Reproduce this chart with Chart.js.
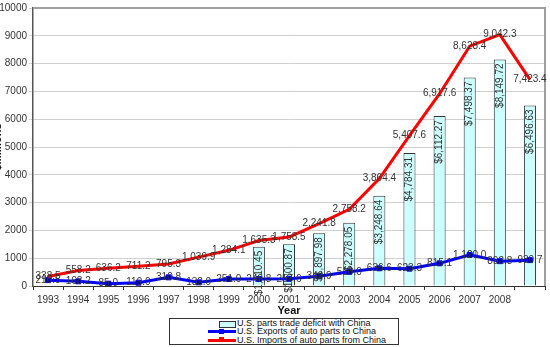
<!DOCTYPE html>
<html>
<head>
<meta charset="utf-8">
<script src="https://cdn.jsdelivr.net/npm/chart.js@4/dist/chart.umd.min.js"></script>
<style>
  body { margin: 0; background: #fff; font-family: "Liberation Sans", Arial, sans-serif; }
  #wrap { position: relative; width: 550px; height: 347px; }
  #legend { position: absolute; left: 169px; top: 318px; width: 228px; height: 25px;
            border: 1px solid #333; font-size: 9px; color: #111; background: #fff; }
  .row { position: relative; height: 8.3px; line-height: 8.3px; white-space: nowrap; }
  .row span.txt { position: absolute; left: 67px; top: 0; }
  .sym { position: absolute; }
</style>
</head>
<body>
<div id="wrap">
  <canvas id="chart" width="550" height="347"></canvas>
  <div id="legend"></div>
</div>
<script>
const years = ['1993','1994','1995','1996','1997','1998','1999','2000','2001','2002','2003','2004','2005','2006','2007','2008',''];
const deficit = [null,null,null,null,null,null,null,1410.45,1500.87,1897.98,2278.05,3248.64,4784.31,6112.27,7498.37,8149.72,6496.63];
const exportsToChina = [210.5,168.2,85.0,119.0,310.8,132.0,251.0,249.8,257.6,349.9,510.0,636.6,623.3,815.1,1120.0,892.8,930.7];
const importsFromChina = [338.5,558.2,636.2,711.2,795.3,1039.9,1284.1,1635.3,1758.5,2241.8,2758.2,3864.4,5407.6,6917.6,8628.4,9042.3,7423.4];
const yTicks = [0,1000,2000,3000,4000,5000,6000,7000,8000,9000,10000];

function fmt(v, d) {
  return v.toLocaleString('en-US', { minimumFractionDigits: d, maximumFractionDigits: d });
}

// value labels on every point / bar
const valueLabels = {
  id: 'valueLabels',
  afterDatasetsDraw(chart) {
    const ctx = chart.ctx;
    ctx.save();
    ctx.font = '10px "Liberation Sans", Arial, sans-serif';
    ctx.fillStyle = '#333';
    chart.data.datasets.forEach((ds, i) => {
      const meta = chart.getDatasetMeta(i);
      meta.data.forEach((el, j) => {
        const v = ds.data[j];
        if (v == null) return;
        if (ds.type === 'bar') {
          ctx.save();
          ctx.translate(el.x, el.y + 4);
          ctx.rotate(-Math.PI / 2);
          ctx.textAlign = 'right';
          ctx.textBaseline = 'middle';
          ctx.fillText('$' + fmt(v, 2), 0, 0);
          ctx.restore();
        } else {
          ctx.textAlign = 'center';
          ctx.textBaseline = 'middle';
          ctx.fillText(fmt(v, 1), el.x, el.y);
        }
      });
    });
    ctx.restore();
  }
};

// excel-like plot area frame (top + right)
const plotFrame = {
  id: 'plotFrame',
  beforeDatasetsDraw(chart) {
    const { ctx, chartArea: a } = chart;
    ctx.save();
    ctx.strokeStyle = '#a0a0a0';
    ctx.lineWidth = 2;
    ctx.beginPath();
    ctx.moveTo(a.left, a.top);
    ctx.lineTo(a.right, a.top);
    ctx.lineTo(a.right, a.bottom);
    ctx.stroke();
    ctx.restore();
  }
};

const ctx = document.getElementById('chart').getContext('2d');
const chart = new Chart(ctx, {
  data: {
    labels: years,
    datasets: [
      { type: 'bar', label: 'U.S. parts trade deficit with China', data: deficit,
        backgroundColor: '#ccffff', borderColor: '#333', borderWidth: 1,
        barPercentage: 0.4, categoryPercentage: 1.0, order: 3 },
      { type: 'line', label: 'U.S. Exports of auto parts to China', data: exportsToChina,
        borderColor: '#0000ff', borderWidth: 3, pointStyle: 'rect', pointRadius: 3.5,
        pointBackgroundColor: '#0000a0', pointBorderColor: '#0000ff', pointBorderWidth: 1,
        tension: 0, order: 2 },
      { type: 'line', label: 'U.S. Imports of auto parts from China', data: importsFromChina,
        borderColor: '#ff0000', borderWidth: 3, pointRadius: 0, tension: 0, order: 1 }
    ]
  },
  options: {
    responsive: false,
    animation: false,
    layout: { padding: { left: 0, right: 2, top: 5, bottom: 29 } },
    plugins: { legend: { display: false }, tooltip: { enabled: false } },
    scales: {
      x: {
        offset: true,
        grid: { display: true, drawOnChartArea: false, offset: true, tickLength: 4, color: '#333' },
        border: { color: '#333', width: 1 },
        ticks: { color: '#333', font: { size: 10, family: '"Liberation Sans", Arial' }, maxRotation: 0, autoSkip: false, padding: 4 },
        title: { display: true, text: 'Year', color: '#111', font: { size: 11, weight: 'bold', family: '"Liberation Sans", Arial' }, padding: { top: 0, bottom: 0 } },
        afterFit(s) { s.height = 32; }
      },
      y: {
        min: 0, max: 10000,
        afterBuildTicks(s) { s.ticks = yTicks.map(v => ({ value: v })); },
        grid: { color: '#d0d0d0', tickLength: 4, lineWidth: 1 },
        border: { color: '#555', width: 1.5 },
        ticks: { color: '#333', font: { size: 10, family: '"Liberation Sans", Arial' }, padding: 2,
                 callback: v => String(v) },
        title: { display: true, text: '$Millions', color: '#111', font: { size: 11, weight: 'bold', family: '"Liberation Sans", Arial' }, padding: { top: -9, bottom: 0 } },
        afterFit(s) { s.width = 33; }
      }
    }
  },
  plugins: [plotFrame, valueLabels]
});

// legend in the excel style: symbol right-aligned, then text
const legend = document.getElementById('legend');
chart.data.datasets.forEach(ds => {
  const row = document.createElement('div');
  row.className = 'row';
  if (ds.type === 'bar') {
    const s = document.createElement('div');
    s.className = 'sym';
    s.style.cssText = 'left:49px;top:1.5px;width:15px;height:5px;border:1px solid #333;background:' + ds.backgroundColor;
    row.appendChild(s);
  } else {
    const l = document.createElement('div');
    l.className = 'sym';
    l.style.cssText = 'left:38px;top:3px;width:28px;height:3px;background:' + ds.borderColor;
    row.appendChild(l);
    const m = document.createElement('div');
    m.className = 'sym';
    m.style.cssText = 'left:49px;top:1.5px;width:5px;height:5px;background:' + ds.borderColor;
    row.appendChild(m);
  }
  const t = document.createElement('span');
  t.className = 'txt';
  t.textContent = ds.label;
  row.appendChild(t);
  legend.appendChild(row);
});
</script>
</body>
</html>
